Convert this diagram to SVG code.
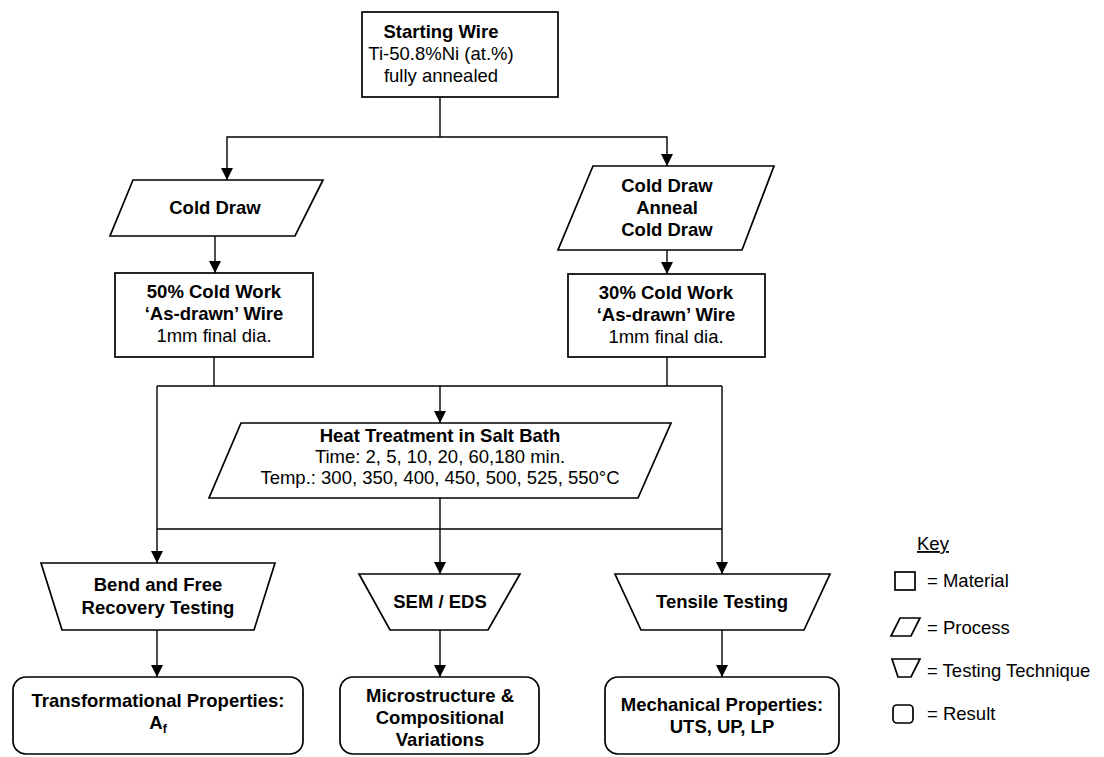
<svg xmlns="http://www.w3.org/2000/svg" width="1104" height="757" viewBox="0 0 1104 757">
<defs>
<style>
.s{fill:#fff;stroke:#000;stroke-width:1.7}
.c{fill:none;stroke:#000;stroke-width:1.4}
text{font-family:"Liberation Sans",Arial,sans-serif;font-size:18.5px;fill:#000;text-anchor:middle}
.b{font-weight:bold}
.k{text-anchor:start}
</style>
<marker id="ah" markerUnits="userSpaceOnUse" markerWidth="12" markerHeight="14" refX="12" refY="6" orient="auto">
<path d="M0,0 L12,6 L0,12 Z" fill="#000"/>
</marker>
</defs>
<rect width="1104" height="757" fill="#fff"/>

<g id="connectors">
<path class="c" d="M440,97 V137"/>
<path class="c" d="M440,137 H227 V180" marker-end="url(#ah)"/>
<path class="c" d="M440,137 H667 V166" marker-end="url(#ah)"/>
<path class="c" d="M215,236 V273" marker-end="url(#ah)"/>
<path class="c" d="M667,250 V274" marker-end="url(#ah)"/>
<path class="c" d="M214,357 V386"/>
<path class="c" d="M667,357 V386"/>
<path class="c" d="M157,386 H722"/>
<path class="c" d="M440,386 V423" marker-end="url(#ah)"/>
<path class="c" d="M157,386 V563" marker-end="url(#ah)"/>
<path class="c" d="M722,386 V574" marker-end="url(#ah)"/>
<path class="c" d="M440,498 V529"/>
<path class="c" d="M157,529 H722"/>
<path class="c" d="M440,529 V574" marker-end="url(#ah)"/>
<path class="c" d="M157,630 V677" marker-end="url(#ah)"/>
<path class="c" d="M440,630 V677" marker-end="url(#ah)"/>
<path class="c" d="M722,630 V677" marker-end="url(#ah)"/>
</g>

<g id="starting-wire">
<rect class="s" x="362" y="12" width="196" height="85"/>
<text class="b" x="441" y="38">Starting Wire</text>
<text x="441" y="60">Ti-50.8%Ni (at.%)</text>
<text x="441" y="82">fully annealed</text>
</g>

<g id="cold-draw">
<polygon class="s" points="133,180 323,180 295,236 110,236"/>
<text class="b" x="215" y="214">Cold Draw</text>
</g>

<g id="cold-draw-anneal">
<polygon class="s" points="593,166 774,166 742,250 558,250"/>
<text class="b" x="667" y="192">Cold Draw</text>
<text class="b" x="667" y="214">Anneal</text>
<text class="b" x="667" y="236">Cold Draw</text>
</g>

<g id="cw50">
<rect class="s" x="115" y="273" width="198" height="84"/>
<text class="b" x="214" y="298">50% Cold Work</text>
<text class="b" x="214" y="320">‘As-drawn’ Wire</text>
<text x="214" y="342">1mm final dia.</text>
</g>

<g id="cw30">
<rect class="s" x="568" y="274" width="197" height="83"/>
<text class="b" x="666" y="299">30% Cold Work</text>
<text class="b" x="666" y="321">‘As-drawn’ Wire</text>
<text x="666" y="343">1mm final dia.</text>
</g>

<g id="heat-treatment">
<polygon class="s" points="241,423 671,423 638,498 209,498"/>
<text class="b" x="440" y="442">Heat Treatment in Salt Bath</text>
<text x="440" y="463">Time: 2, 5, 10, 20, 60,180 min.</text>
<text x="440" y="484">Temp.: 300, 350, 400, 450, 500, 525, 550°C</text>
</g>

<g id="bend-test">
<polygon class="s" points="41,563 275,563 254,630 62,630"/>
<text class="b" x="158" y="591">Bend and Free</text>
<text class="b" x="158" y="614">Recovery Testing</text>
</g>

<g id="sem-eds">
<polygon class="s" points="359,574 520,574 488,630 390,630"/>
<text class="b" x="440" y="608">SEM / EDS</text>
</g>

<g id="tensile-test">
<polygon class="s" points="615,574 830,574 804,630 641,630"/>
<text class="b" x="722" y="608">Tensile Testing</text>
</g>

<g id="transformational">
<rect class="s" x="13" y="677" width="290" height="77" rx="13"/>
<text class="b" x="158" y="707">Transformational Properties:</text>
<text class="b" x="158" y="729">A<tspan font-size="12" dy="4">f</tspan></text>
</g>

<g id="microstructure">
<rect class="s" x="340" y="677" width="199" height="77" rx="13"/>
<text class="b" x="440" y="702">Microstructure &amp;</text>
<text class="b" x="440" y="724">Compositional</text>
<text class="b" x="440" y="746">Variations</text>
</g>

<g id="mechanical">
<rect class="s" x="605" y="677" width="234" height="77" rx="13"/>
<text class="b" x="722" y="711">Mechanical Properties:</text>
<text class="b" x="722" y="733">UTS, UP, LP</text>
</g>

<g id="key">
<text class="k" x="917" y="550" text-decoration="underline">Key</text>
<rect class="s" x="895" y="572" width="20" height="18" stroke-width="1.2"/>
<text class="k" x="927" y="587">= Material</text>
<polygon class="s" points="900,618 920,618 911,636 891,636" stroke-width="1.2"/>
<text class="k" x="927" y="634">= Process</text>
<polygon class="s" points="892,659 920,659 911,677 898,677" stroke-width="1.2"/>
<text class="k" x="927" y="677">= Testing Technique</text>
<rect class="s" x="893" y="705" width="20" height="18" rx="4" stroke-width="1.2"/>
<text class="k" x="927" y="720">= Result</text>
</g>
</svg>
